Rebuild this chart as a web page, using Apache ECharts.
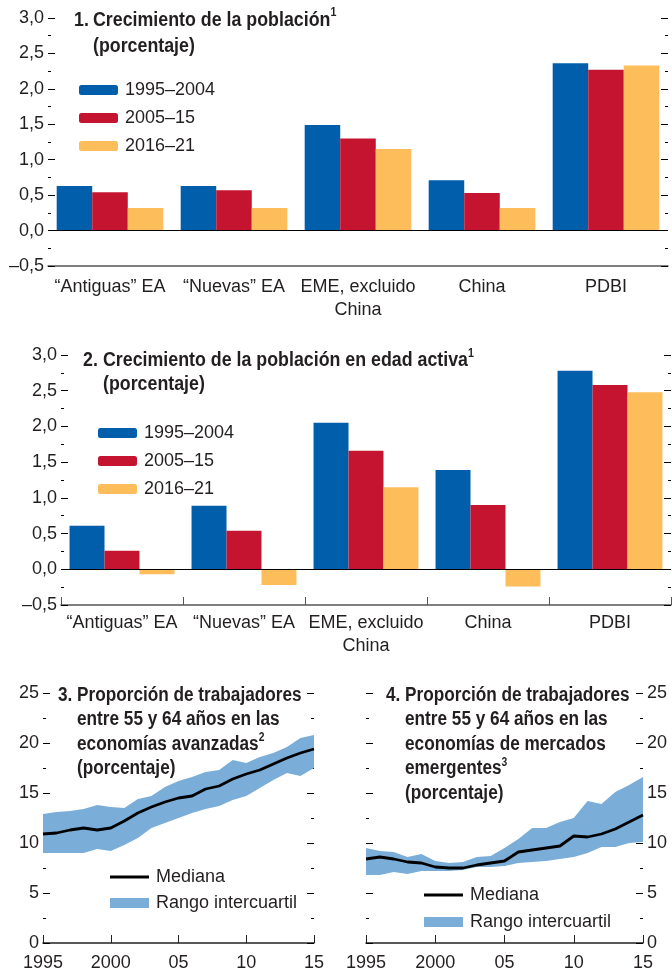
<!DOCTYPE html>
<html>
<head>
<meta charset="utf-8">
<script src="https://cdn.jsdelivr.net/npm/echarts@6/dist/echarts.min.js"></script>
<style>
  html, body { margin: 0; padding: 0; background: #fff; }
  #main { width: 672px; height: 975px; }
</style>
</head>
<body>
<div id="main"></div>
<script>
// datos
var categorias = ['“Antiguas” EA', '“Nuevas” EA', 'EME, excluido\nChina', 'China', 'PDBI'];
var periodos = ['1995–2004', '2005–15', '2016–21'];

// 1. crecimiento de la poblacion
var pob_1995 = [0.63, 0.63, 1.49, 0.71, 2.36];
var pob_2005 = [0.54, 0.57, 1.30, 0.53, 2.27];
var pob_2016 = [0.32, 0.32, 1.15, 0.32, 2.33];

// 2. crecimiento de la poblacion en edad activa
var act_1995 = [0.61, 0.89, 2.05, 1.39, 2.78];
var act_2005 = [0.26, 0.54, 1.66, 0.90, 2.58];
var act_2016 = [-0.07, -0.22, 1.15, -0.24, 2.48];

var anios = [1995, 1996, 1997, 1998, 1999, 2000, 2001, 2002, 2003, 2004, 2005,
             2006, 2007, 2008, 2009, 2010, 2011, 2012, 2013, 2014, 2015];

// 3. economias avanzadas
var ea_mediana = [10.9, 11.0, 11.3, 11.5, 11.3, 11.5, 12.2, 13.0, 13.6, 14.1, 14.5,
                  14.7, 15.4, 15.7, 16.4, 16.9, 17.3, 17.9, 18.5, 19.0, 19.4];
var ea_q1 = [9.0, 9.0, 9.0, 9.0, 9.4, 9.2, 9.8, 10.5, 11.5, 12.0, 12.5,
             13.0, 13.4, 13.7, 14.3, 14.7, 15.5, 16.3, 17.0, 16.7, 17.5];
var ea_q3 = [12.9, 13.1, 13.2, 13.4, 13.8, 13.6, 13.5, 14.4, 14.7, 15.6, 16.2,
             16.6, 17.1, 17.3, 18.3, 18.0, 18.6, 19.0, 19.6, 20.5, 20.8];

// 4. economias de mercados emergentes
var eme_mediana = [8.4, 8.6, 8.4, 8.1, 8.0, 7.6, 7.5, 7.5, 7.8, 8.0, 8.2,
                   9.1, 9.3, 9.5, 9.7, 10.7, 10.6, 10.9, 11.4, 12.1, 12.8];
var eme_q1 = [6.8, 6.8, 7.1, 6.9, 7.2, 7.2, 7.2, 7.3, 7.6, 7.6, 7.7,
              8.0, 8.1, 8.2, 8.4, 8.6, 9.0, 9.6, 9.6, 10.0, 10.1];
var eme_q3 = [9.5, 9.2, 9.1, 8.6, 8.9, 8.2, 8.0, 8.1, 8.6, 8.7, 9.5,
              10.4, 11.5, 11.5, 12.1, 12.5, 14.2, 13.9, 15.1, 15.8, 16.6];

var FONT = "'Liberation Sans', Arial, sans-serif";
var TXT = '#231f20';
var AZUL = '#005eaa', ROJO = '#c41430', AMAR = '#fdbd5a', BANDA = '#7aaed8';
var FS = 18;

var myChart = echarts.init(document.getElementById('main'), null, { renderer: 'canvas' });

function pares(xs, ys) {
  return xs.map(function (x, i) { return [x, ys[i]]; });
}
function fmtDec(v) {
  var s = Math.abs(v).toFixed(1).replace('.', ',');
  return v < 0 ? '–' + s : s;
}
function fmtAnio(v) {
  if (v === 1995 || v === 2000) return String(v);
  return String(v).slice(2);
}

// titulos: texto negrita estrechado (como Arial Narrow)
function titulo(txt, x, y, lh, sx) {
  return {
    type: 'text', x: x, y: y, scaleX: sx, silent: true,
    style: {
      text: txt, font: 'bold 20px ' + FONT, fill: TXT, lineHeight: lh,
      verticalAlign: 'top',
      rich: {
        sup: { fontSize: 12, fontWeight: 'bold', fontFamily: FONT, fill: TXT, verticalAlign: 'top' }
      }
    }
  };
}

function ejeY(grid, min, max, intv, pos, labels, fmt) {
  return {
    type: 'value', gridIndex: grid, position: pos, min: min, max: max, interval: intv,
    axisLine: { show: false },
    axisTick: { show: true, inside: true, length: 7, lineStyle: { color: '#000', width: 1 } },
    minorTick: { show: true, splitNumber: 2, length: 3, lineStyle: { color: '#000', width: 1 } },
    splitLine: { show: false },
    axisLabel: { show: labels, formatter: fmt, fontFamily: FONT, fontSize: FS, color: TXT, margin: 4 }
  };
}

function leyenda(names, left, top, gap) {
  return {
    data: names, orient: 'vertical', left: left, top: top, itemGap: gap,
    itemWidth: 39, itemHeight: 10, padding: 0,
    selectedMode: false,
    textStyle: { fontFamily: FONT, fontSize: FS, color: TXT, padding: [0, 0, 0, 2] }
  };
}

function barras(name, data, color, xi, yi, zero) {
  var s = {
    name: name, type: 'bar', xAxisIndex: xi, yAxisIndex: yi, data: data,
    barGap: '0%', barCategoryGap: '14%', itemStyle: { color: color }
  };
  if (zero) {
    s.markLine = {
      silent: true, symbol: 'none', label: { show: false },
      lineStyle: { color: '#000', width: 1.2, type: 'solid' },
      data: [{ yAxis: 0 }]
    };
  }
  return s;
}

// banda intercuartil dibujada con las coordenadas del eje
function banda(xi, yi, q1, q3) {
  return {
    name: 'Rango intercuartil', type: 'custom', xAxisIndex: xi, yAxisIndex: yi,
    itemStyle: { color: BANDA },
    encode: { x: 0, y: [1, 2] },
    data: anios.map(function (a, i) { return [a, q1[i], q3[i]]; }),
    renderItem: function (params, api) {
      if (params.dataIndex !== 0) return;
      var arriba = [], abajo = [];
      for (var i = 0; i < anios.length; i++) {
        arriba.push(api.coord([anios[i], q3[i]]));
        abajo.unshift(api.coord([anios[i], q1[i]]));
      }
      return { type: 'polygon', shape: { points: arriba.concat(abajo) }, style: { fill: BANDA } };
    },
    z: 1
  };
}

var leyLinea = [
  { name: 'Mediana', icon: 'path://M0,0H40V3H0Z' },
  { name: 'Rango intercuartil', icon: 'rect' }
];

var option = {
  backgroundColor: '#fff',
  animation: false,
  graphic: [
    titulo('1.', 74, 7, 26, 0.89),
    titulo('Crecimiento de la población{sup|1}\n(porcentaje)', 93, 7, 26, 0.89),
    titulo('2.', 83, 348, 24, 0.89),
    titulo('Crecimiento de la población en edad activa{sup|1}\n(porcentaje)', 103, 348, 24, 0.89),
    titulo('3.', 58, 683, 24.5, 0.86),
    titulo('Proporción de trabajadores\nentre 55 y 64 años en las\neconomías avanzadas{sup|2}\n(porcentaje)', 77, 683, 24.5, 0.86),
    titulo('4.', 386, 683, 24.5, 0.86),
    titulo('Proporción de trabajadores\nentre 55 y 64 años en las\neconomías de mercados\nemergentes{sup|3}\n(porcentaje)', 405, 683, 24.5, 0.86)
  ],
  legend: [
    leyenda(periodos, 79, 81, 10),
    leyenda(periodos, 98, 424, 10),
    leyenda(leyLinea, 110, 868, 8),
    leyenda(leyLinea, 424, 886, 9)
  ],
  grid: [
    { left: 48, top: 18, width: 620, height: 248 },
    { left: 61, top: 355, width: 610, height: 250 },
    { left: 43, top: 693, width: 271, height: 250 },
    { left: 366, top: 693, width: 277, height: 250 }
  ],
  xAxis: [
    {
      type: 'category', gridIndex: 0, data: categorias,
      axisLine: { onZero: false, lineStyle: { color: '#555', width: 1.5 } },
      axisTick: { show: false },
      axisLabel: { interval: 0, fontFamily: FONT, fontSize: FS, color: TXT, margin: 10, lineHeight: 23 }
    },
    {
      type: 'category', gridIndex: 1, data: categorias,
      axisLine: { onZero: false, lineStyle: { color: '#555', width: 1.5 } },
      axisTick: { show: true, inside: true, length: 8, lineStyle: { color: '#555' } },
      axisLabel: { interval: 0, fontFamily: FONT, fontSize: FS, color: TXT, margin: 7, lineHeight: 23 }
    },
    {
      type: 'value', gridIndex: 2, min: 1995, max: 2015, interval: 5,
      axisLine: { onZero: false, lineStyle: { color: '#222', width: 1.5 } },
      axisTick: { show: true, inside: true, length: 8, lineStyle: { color: '#222' } },
      splitLine: { show: false },
      axisLabel: { formatter: fmtAnio, fontFamily: FONT, fontSize: FS, color: TXT, margin: 11 }
    },
    {
      type: 'value', gridIndex: 3, min: 1995, max: 2015, interval: 5,
      axisLine: { onZero: false, lineStyle: { color: '#222', width: 1.5 } },
      axisTick: { show: true, inside: true, length: 8, lineStyle: { color: '#222' } },
      splitLine: { show: false },
      axisLabel: { formatter: fmtAnio, fontFamily: FONT, fontSize: FS, color: TXT, margin: 11 }
    }
  ],
  yAxis: [
    ejeY(0, -0.5, 3, 0.5, 'left', true, fmtDec),
    ejeY(0, -0.5, 3, 0.5, 'right', false, fmtDec),
    ejeY(1, -0.5, 3, 0.5, 'left', true, fmtDec),
    ejeY(1, -0.5, 3, 0.5, 'right', false, fmtDec),
    ejeY(2, 0, 25, 5, 'left', true, null),
    ejeY(2, 0, 25, 5, 'right', false, null),
    ejeY(3, 0, 25, 5, 'left', false, null),
    ejeY(3, 0, 25, 5, 'right', true, null)
  ],
  series: [
    barras(periodos[0], pob_1995, AZUL, 0, 0, true),
    barras(periodos[1], pob_2005, ROJO, 0, 0),
    barras(periodos[2], pob_2016, AMAR, 0, 0),
    barras(periodos[0], act_1995, AZUL, 1, 2, true),
    barras(periodos[1], act_2005, ROJO, 1, 2),
    barras(periodos[2], act_2016, AMAR, 1, 2),

    banda(2, 4, ea_q1, ea_q3),
    { name: 'Mediana', type: 'line', xAxisIndex: 2, yAxisIndex: 4, symbol: 'none',
      itemStyle: { color: '#000' }, lineStyle: { color: '#000', width: 2.8 }, data: pares(anios, ea_mediana), z: 5 },

    banda(3, 6, eme_q1, eme_q3),
    { name: 'Mediana', type: 'line', xAxisIndex: 3, yAxisIndex: 6, symbol: 'none',
      itemStyle: { color: '#000' }, lineStyle: { color: '#000', width: 2.8 }, data: pares(anios, eme_mediana), z: 5 }
  ]
};

myChart.setOption(option);
</script>
</body>
</html>
